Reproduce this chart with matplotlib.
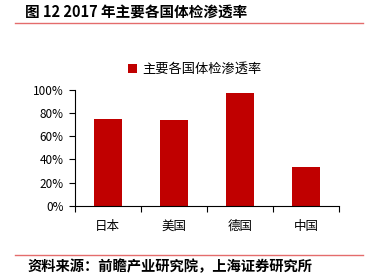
import matplotlib
matplotlib.use("Agg")
import matplotlib.pyplot as plt
from matplotlib.lines import Line2D
from matplotlib.ticker import FixedLocator, PercentFormatter

plt.rcParams['font.family'] = ['Noto Sans CJK SC', 'DejaVu Sans']

categories = ['日本', '美国', '德国', '中国']
values = [0.745, 0.736, 0.974, 0.334]
series_name = '主要各国体检渗透率'
title = '图 12 2017 年主要各国体检渗透率'
source = '资料来源：前瞻产业研究院，上海证券研究所'

W, H = 372, 277
fig = plt.figure(figsize=(W / 100, H / 100), dpi=100)
ax = fig.add_axes([74.7 / W, 1 - 205.7 / H, (339 - 74.7) / W, (205.7 - 89.7) / H])

x = range(len(categories))
ax.bar(x, values, width=0.42, color='#C00000', label=series_name, zorder=2)
ax.set_xlim(-0.5, len(categories) - 0.5)
ax.set_ylim(0, 1)
ax.yaxis.set_major_locator(FixedLocator([0, 0.2, 0.4, 0.6, 0.8, 1.0]))
ax.yaxis.set_major_formatter(PercentFormatter(1.0, decimals=0))
ax.set_xticks(list(x))
ax.set_xticklabels(categories)
ax.xaxis.set_minor_locator(FixedLocator([i - 0.5 for i in range(len(categories) + 1)]))
ax.tick_params(axis='x', which='major', length=0, labelsize=9, pad=10)
ax.tick_params(axis='x', which='minor', length=4, width=0.8, direction='out')
ax.tick_params(axis='y', length=4, width=0.8, direction='out', labelsize=8.5, pad=4)
for s in ['top', 'right']:
    ax.spines[s].set_visible(False)
for s in ['left', 'bottom']:
    ax.spines[s].set_linewidth(0.8)

ax.legend(loc='upper center', bbox_to_anchor=(195 / W, 1 - 51 / H), bbox_transform=fig.transFigure,
          frameon=False, fontsize=9.5, handlelength=0.7, handleheight=0.7, handletextpad=0.4)

fig.text(25 / W, 1 - 13 / H, title, fontsize=10.5, fontweight='bold', va='center', ha='left')
fig.add_artist(Line2D([15 / W, 363 / W], [1 - 23 / H, 1 - 23 / H], color='#E46C6C', lw=1.0))
fig.add_artist(Line2D([15 / W, 363 / W], [1 - 255 / H, 1 - 255 / H], color='#E46C6C', lw=1.0))
fig.text(28 / W, 1 - 267 / H, source, fontsize=10.3, fontweight='bold', fontstyle='italic', va='center', ha='left')

fig.savefig('out.png', dpi=100)
